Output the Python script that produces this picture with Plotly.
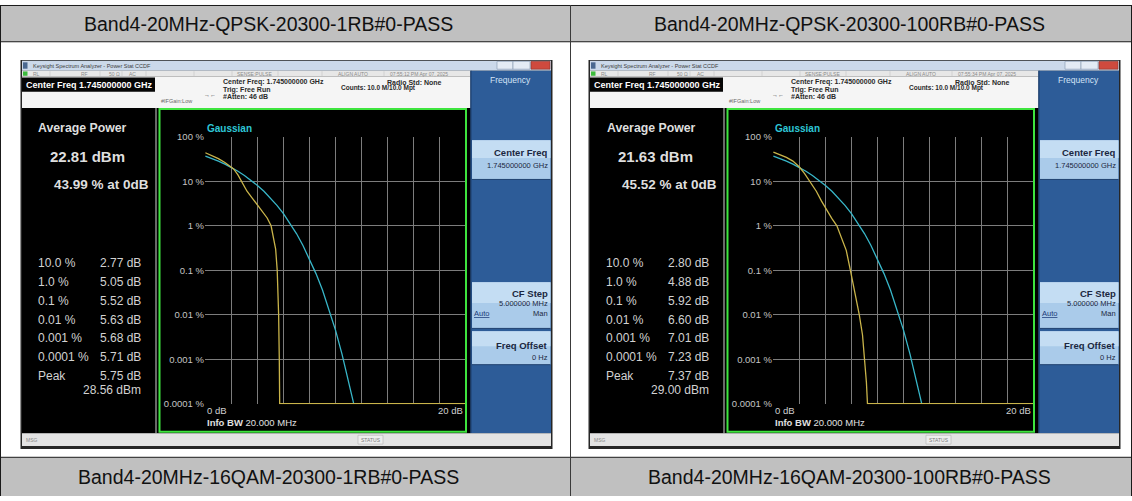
import math
import plotly.graph_objects as go

# ---------------- data ----------------
titles_top = ["Band4-20MHz-QPSK-20300-1RB#0-PASS", "Band4-20MHz-QPSK-20300-100RB#0-PASS"]
titles_bottom = ["Band4-20MHz-16QAM-20300-1RB#0-PASS", "Band4-20MHz-16QAM-20300-100RB#0-PASS"]
timestamps = ["07:55:12 PM Apr 07, 2025", "07:55:34 PM Apr 07, 2025"]
average_power = ["22.81 dBm", "21.63 dBm"]
percent_at_0db = ["43.99 % at 0dB", "45.52 % at 0dB"]
stat_labels = ["10.0 %", "1.0 %", "0.1 %", "0.01 %", "0.001 %", "0.0001 %", "Peak"]
stat_values_1rb = ["2.77 dB", "5.05 dB", "5.52 dB", "5.63 dB", "5.68 dB", "5.71 dB", "5.75 dB"]
stat_values_100rb = ["2.80 dB", "4.88 dB", "5.92 dB", "6.60 dB", "7.01 dB", "7.23 dB", "7.37 dB"]
peak_power = ["28.56 dBm", "29.00 dBm"]

ccdf_tick_vals = [100, 10, 1, 0.1, 0.01, 0.001, 0.0001]
ccdf_tick_text = ["100 %", "10 %", "1 %", "0.1 %", "0.01 %", "0.001 %", "0.0001 %"]

gauss_db = [0, 0.5, 1, 1.5, 2, 2.5, 3, 3.5, 4, 4.5, 5, 5.5, 6, 6.5, 7, 7.5, 8, 8.5, 9, 9.5, 10, 10.5, 11, 11.4]
gauss_pct = [36.8, 32.6, 28.4, 24.3, 20.5, 16.9, 13.6, 10.7, 8.1, 5.97, 4.23, 2.88, 1.87, 1.15,
             0.67, 0.36, 0.18, 0.084, 0.036, 0.0135, 0.0045, 0.0013, 0.00034, 0.0001]

meas_1rb_db = [0, 0.5, 1.0, 1.5, 2.17, 2.5, 2.77, 3.2, 3.6, 4.0, 4.4, 4.75, 5.05, 5.25, 5.4, 5.52,
               5.63, 5.68, 5.71, 20]
meas_1rb_pct = [44.0, 38.0, 32.5, 26.5, 19.0, 14.0, 10.0, 6.0, 4.2, 2.9, 2.1, 1.5, 1.0, 0.55, 0.3, 0.1,
                0.01, 0.001, 0.0001, 0.0001]

meas_100rb_db = [0, 0.5, 1.0, 1.5, 2.0, 2.4, 2.8, 3.3, 3.7, 4.1, 4.5, 4.88, 5.3, 5.6, 5.92, 6.25,
                 6.6, 6.85, 7.01, 7.15, 7.23, 20]
meas_100rb_pct = [45.5, 40.0, 34.5, 28.5, 21.0, 15.0, 10.0, 6.0, 3.6, 2.2, 1.45, 1.0, 0.5, 0.28, 0.1,
                  0.035, 0.01, 0.0035, 0.001, 0.0003, 0.0001, 0.0001]

# ---------------- helpers ----------------
W, H = 1132, 501
FONT = "Liberation Sans, Arial, sans-serif"
shapes, annots = [], []


def X(px):
    return px / W


def Y(py):
    return 1 - py / H


def rect(x0, y0, x1, y1, fill, lc=None, lw=0, layer="below"):
    shapes.append(dict(type="rect", xref="paper", yref="paper",
                       x0=X(x0), x1=X(x1), y0=Y(y1), y1=Y(y0),
                       fillcolor=fill if fill else "rgba(0,0,0,0)",
                       line=dict(color=lc or "rgba(0,0,0,0)", width=lw), layer=layer))


def line(x0, y0, x1, y1, color, w=1, layer="below"):
    shapes.append(dict(type="line", xref="paper", yref="paper",
                       x0=X(x0), x1=X(x1), y0=Y(y0), y1=Y(y1),
                       line=dict(color=color, width=w), layer=layer))


def txt(x, y, s, size, color, anchor="left", bold=False):
    if bold:
        s = "<b>" + s + "</b>"
    annots.append(dict(xref="paper", yref="paper", x=X(x), y=Y(y), text=s,
                       xanchor=anchor, yanchor="middle", showarrow=False,
                       borderpad=0, font=dict(family=FONT, size=size, color=color)))


# ---------------- table ----------------
rect(0, 0, W, 37.5, "#c0c0c0")
rect(0, 461.5, W, H, "#c0c0c0")
for yy in [0.5, 37.5, 461.5]:
    line(0, yy, W, yy, "#1a1a1a", 1)
line(0.5, 0, 0.5, H, "#1a1a1a", 1)
line(1131.5, 0, 1131.5, H, "#1a1a1a", 1)
line(570.5, 0, 570.5, H, "#3a3a3a", 1)
for i, cx in enumerate([268, 849]):
    txt(cx, 19.5, titles_top[i], 19.5, "#111111", anchor="center")
    txt(cx, 481.5, titles_bottom[i], 19.5, "#111111", anchor="center")


# ---------------- analyzer screenshot ----------------
def screenshot(dx, k, stat_values):
    L, R = 20.5 + dx, 552.5 + dx
    rect(L, 56, R, 453, "#262626")
    # title bar
    rect(L + 1.5, 57, R - 1.5, 67, "#cbd9ea")
    rect(L + 2.5, 58.5, L + 7, 65, "#4a6890")
    txt(L + 11, 62, "Keysight Spectrum Analyzer - Power Stat CCDF", 5.5, "#3c3c3c")
    rect(497 + dx, 57.5, 513 + dx, 65.5, "#e3ebf5", "#7f93ad", 0.6)
    rect(513 + dx, 57.5, 530 + dx, 65.5, "#e3ebf5", "#7f93ad", 0.6)
    rect(531 + dx, 57.5, 550 + dx, 65.5, "#cf4a3e", "#8a3028", 0.6)
    # status row
    rect(L + 1.5, 67, 470.5 + dx, 73, "#e7e7e7")
    rect(23 + dx, 67.8, 27.5 + dx, 72.2, "#3dbb3d")
    for sx in [50, 100, 122, 146, 194, 232, 278, 322, 384]:
        line(sx + dx, 67.5, sx + dx, 72.5, "#c4c4c4", 0.6)
    for sx, s in [(32, "RL"), (80, "RF"), (108, "50 Ω"), (128, "AC"), (236, "SENSE:PULSE"),
                  (337, "ALIGN AUTO"), (389, timestamps[k])]:
        txt(sx + dx, 70.2, s, 5, "#8a8a8a")
    # info area
    rect(L + 1.5, 73, 470.5 + dx, 105, "#f5f5f5")
    rect(22 + dx, 74, 155 + dx, 88.5, "#060606")
    txt(25 + dx, 81.5, "Center Freq 1.745000000 GHz", 9, "#ffffff", bold=True)
    txt(222 + dx, 79, "Center Freq: 1.745000000 GHz", 7, "#2a2a2a", bold=True)
    txt(222 + dx, 86.5, "Trig: Free Run", 7, "#2a2a2a", bold=True)
    txt(222 + dx, 93.5, "#Atten: 46 dB", 7, "#2a2a2a", bold=True)
    txt(340 + dx, 85, "Counts: 10.0 M/10.0 Mpt", 6.5, "#2a2a2a", bold=True)
    txt(386 + dx, 79.5, "Radio Std: None", 7, "#2a2a2a", bold=True)
    txt(160 + dx, 98, "#IFGain:Low", 5.5, "#6a6a6a")
    txt(203 + dx, 91.5, "→←", 6, "#333333")
    # main black area
    rect(L + 1.5, 105, 470.7 + dx, 437, "#000000")
    line(156 + dx, 105, 156 + dx, 437, "#8c8c8c", 1.5)
    rect(159.5 + dx, 106, 466 + dx, 435.5, None, "#3ee43e", 2, layer="above")
    # soft keys
    rect(470.5 + dx, 67, R - 1.5, 437, "#2d5c98")
    line(471 + dx, 67, 471 + dx, 437, "#1d3f6e", 1)
    txt(510 + dx, 77, "Frequency", 8.5, "#d4e3f6", anchor="center")
    for (y0, y1) in [(138, 178), (283, 330), (333, 367)]:
        rect(472 + dx, y0, R - 2, y1, "#aacbea")
        rect(472 + dx, y0, R - 2, y0 + (y1 - y0) * 0.45, "#c4ddf3")
        line(472 + dx, y1, R - 2, y1, "#1f416f", 1)
    tc = "#1b2740"
    txt(548.5 + dx, 150.5, "Center Freq", 9.5, tc, anchor="right", bold=True)
    txt(548.5 + dx, 164, "1.745000000 GHz", 7.5, tc, anchor="right")
    txt(548.5 + dx, 294.5, "CF Step", 9.5, tc, anchor="right", bold=True)
    txt(548.5 + dx, 305, "5.000000 MHz", 7.5, tc, anchor="right")
    txt(473 + dx, 315, "<u>Auto</u>", 7.5, "#1a3a78")
    txt(548.5 + dx, 315, "Man", 7.5, tc, anchor="right")
    txt(548.5 + dx, 347.5, "Freq Offset", 9.5, tc, anchor="right", bold=True)
    txt(548.5 + dx, 360, "0 Hz", 7.5, tc, anchor="right")
    # status bar
    rect(L + 1.5, 437, R - 1.5, 450, "#e3e3e3")
    txt(25 + dx, 443.5, "MSG", 5, "#8a8a8a")
    rect(358 + dx, 439, 383 + dx, 448, "#ededed", "#b4b4b4", 0.6)
    txt(370.5 + dx, 443.5, "STATUS", 5, "#7a7a7a", anchor="center")
    # left result panel
    wc = "#dedede"
    txt(83 + dx, 126, "Average Power", 12.3, wc, anchor="center", bold=True)
    txt(87 + dx, 155, average_power[k], 15, wc, anchor="center", bold=True)
    txt(150 + dx, 183, percent_at_0db[k], 13.5, wc, anchor="right", bold=True)
    rows = [263.3, 282.6, 301.8, 321.0, 340.2, 359.4, 378.6]
    for j, yy in enumerate(rows):
        txt(37 + dx, yy, stat_labels[j], 12, "#d2d2d2")
        txt(142 + dx, yy, stat_values[j], 12, "#d2d2d2", anchor="right")
    txt(142 + dx, 392.5, peak_power[k], 12, "#d2d2d2", anchor="right")
    # plot captions
    txt(206 + dx, 126, "Gaussian", 10, "#2ec6d6", bold=True)
    txt(206 + dx, 413.5, "0 dB", 9.5, "#d0d0d0")
    txt(463.5 + dx, 413.5, "20 dB", 9.5, "#d0d0d0", anchor="right")
    txt(206 + dx, 426.5, "<b>Info BW</b> 20.000 MHz", 9.5, "#e0e0e0")


screenshot(0, 0, stat_values_1rb)
screenshot(568, 1, stat_values_100rb)

# ---------------- CCDF plots ----------------
fig = go.Figure()
series = [(meas_1rb_db, meas_1rb_pct, "x", "y"), (meas_100rb_db, meas_100rb_pct, "x2", "y2")]
for mdb, mpct, xa, ya in series:
    fig.add_trace(go.Scatter(x=gauss_db, y=gauss_pct, mode="lines", xaxis=xa, yaxis=ya,
                             line=dict(color="#38b6c8", width=1.3), hoverinfo="skip",
                             showlegend=False))
    fig.add_trace(go.Scatter(x=mdb, y=mpct, mode="lines", xaxis=xa, yaxis=ya,
                             line=dict(color="#c9b44a", width=1.3), hoverinfo="skip",
                             showlegend=False))

ymin, ymax = math.log10(0.0001) - 0.012, 2.006
xcommon = dict(range=[-0.03, 20.0], dtick=2, tick0=0, showgrid=True, gridcolor="#7c7c7c",
               gridwidth=1, zeroline=False, showline=False, showticklabels=False, ticks="",
               fixedrange=True)
ycommon = dict(type="log", range=[ymin, ymax], tickvals=ccdf_tick_vals, ticktext=ccdf_tick_text,
               showgrid=True, gridcolor="#7c7c7c", gridwidth=1, zeroline=False, showline=False,
               ticks="", tickfont=dict(family=FONT, size=9.5, color="#c4c4c4"), fixedrange=True)

fig.update_layout(
    width=W, height=H, margin=dict(l=0, r=0, t=0, b=0),
    paper_bgcolor="#ffffff", plot_bgcolor="rgba(0,0,0,0)",
    xaxis=dict(domain=[X(205), X(465.6)], anchor="y", **xcommon),
    yaxis=dict(domain=[Y(407.3), Y(134.3)], anchor="x", **ycommon),
    xaxis2=dict(domain=[X(773), X(1033.6)], anchor="y2", **xcommon),
    yaxis2=dict(domain=[Y(407.3), Y(134.3)], anchor="x2", **ycommon),
    shapes=shapes, annotations=annots, showlegend=False,
)

fig.write_html("out.html", config={"displayModeBar": False},
               post_script="document.body.style.margin='0';document.body.style.padding='0';"
                           "document.body.style.overflow='hidden';")
